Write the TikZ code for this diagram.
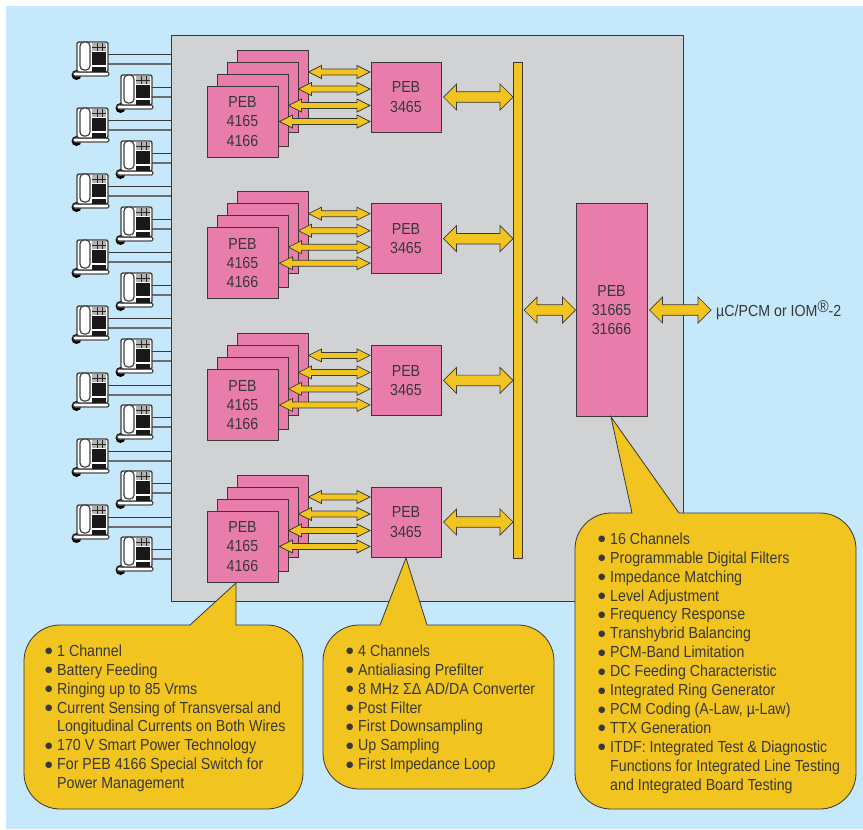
\documentclass[tikz,border=0pt]{standalone}
\usepackage{fontspec}
\setmainfont[FakeStretch=0.888]{Liberation Sans}
\newfontfamily\bulletfont{DejaVu Sans}
\usetikzlibrary{calc}
\definecolor{bgblue}{HTML}{C5E8FA}
\definecolor{panel}{HTML}{D0D2D3}
\definecolor{chip}{HTML}{E87DAC}
\definecolor{gold}{HTML}{F2C41F}
\definecolor{ink}{HTML}{383838}
\newcommand{\fatarrow}[5]{%
  \draw[fat] let \p1=(#1),\p2=(#2) in
   (\x1,\y1) -- (\x1+#3pt,\y1+#4pt) -- (\x1+#3pt,\y1+#5pt) -- (\x2-#3pt,\y1+#5pt) -- (\x2-#3pt,\y1+#4pt) --
   (\x2,\y1) -- (\x2-#3pt,\y1-#4pt) -- (\x2-#3pt,\y1-#5pt) -- (\x1+#3pt,\y1-#5pt) -- (\x1+#3pt,\y1-#4pt) -- cycle;}
\newcommand{\callout}[9]{%
  \pgfmathsetmacro{\ra}{#5*0.55}\pgfmathsetmacro{\rb}{#5*0.45}%
  \draw[bubble] (#1+#5,#2) -- (#6,#2) -- (#7,#8) -- (#9,#2) -- (#3-#5,#2)
   .. controls (#3-\rb,#2) and (#3,#2+\rb) .. (#3,#2+#5) -- (#3,#4-#5)
   .. controls (#3,#4-\rb) and (#3-\rb,#4) .. (#3-#5,#4) -- (#1+#5,#4)
   .. controls (#1+\rb,#4) and (#1,#4-\rb) .. (#1,#4-#5) -- (#1,#2+#5)
   .. controls (#1,#2+\rb) and (#1+\rb,#2) .. (#1+#5,#2) -- cycle;}
\newcommand{\bu}{\hbox to 11pt{\hss\smash{\raisebox{2.4pt}{\bulletfont\fontsize{8.5}{9}\selectfont ●}}\hskip 4.7pt}}
\newcommand{\ind}{\hspace*{11pt}}
\tikzset{
  x=1pt,y=-1pt,
  fat/.style={draw=ink,line width=0.7pt,fill=gold,line join=miter},
  bubble/.style={draw=ink,line width=0.8pt,fill=gold,line join=miter},
  chipbox/.style={draw=ink,line width=1pt,fill=chip,inner sep=0pt,anchor=north west,text=ink,align=center,
    font=\fontsize{16}{19.3}\selectfont},
  bullets/.style={anchor=north west,inner sep=0pt,align=left,text=ink,font=\fontsize{16}{18.9}\selectfont},
  dkwire/.style={draw=ink,line width=1pt},
  gywire/.style={draw=gray!85!black,line width=1.2pt},
  phone/.pic={
    \fill[black] (5.5,34) circle (5);
    \fill[bgblue] (5.5,34) circle (1.5);
    \draw[black!70,line width=1.2pt,fill=white,rounded corners=2pt] (2,31) -- (38,31) -- (38,35) -- (2,35) -- cycle;
    \draw[black!75,line width=1.4pt,fill=white,rounded corners=2pt] (6,1) rectangle (37,31);
    \fill[black!30] (21,2) rectangle (35,10);
    \draw[black!85,line width=.8pt] (21,6) -- (35,6) (26,2) -- (26,10) (31,2) -- (31,10);
    \fill[black!90] (21,11) rectangle (35,24);
    \fill[black!90] (21,25.5) rectangle (35,31);
    \draw[black!75,line width=1.2pt,fill=white,rounded corners=4pt] (9,1) rectangle (19,29);
  }
}
\begin{document}
\begin{tikzpicture}
\useasboundingbox (0,0) rectangle (863,830);
\fill[bgblue] (6,6) rectangle (863,829);
\node[draw=ink,line width=1pt,fill=panel,inner sep=0pt,minimum width=512pt,minimum height=566pt,anchor=north west] (panel) at (171,35) {};

% phones
\foreach \i/\py in {1/41,2/107,3/173,4/239,5/305,6/372,7/438,8/504}{
  \coordinate (la\i) at (108,\py+13);
  \coordinate (lb\i) at (108,\py+23);
  \draw[dkwire] (la\i) -- (la\i -| panel.west);
  \draw[gywire] (lb\i) -- (lb\i -| panel.west);
  \pic at (71,\py) {phone};
}
\foreach \i/\py in {1/74,2/140,3/206,4/272,5/338,6/404,7/470,8/536}{
  \coordinate (ra\i) at (152,\py+13);
  \coordinate (rb\i) at (152,\py+23);
  \draw[dkwire] (ra\i) -- (ra\i -| panel.west);
  \draw[gywire] (rb\i) -- (rb\i -| panel.west);
  \pic at (115,\py) {phone};
}

% bus
\node[draw=ink,line width=1pt,fill=gold,inner sep=0pt,minimum width=9pt,minimum height=496pt,anchor=north west] (bus) at (513,62) {};

% channel groups
\foreach \g/\dy in {1/0,2/141.7,3/283.4,4/425}{
  \node[chipbox,minimum width=71pt,minimum height=70pt] (d\g) at (236.5,49.5+\dy) {};
  \node[chipbox,minimum width=71pt,minimum height=70pt] (c\g) at (226.5,61.5+\dy) {};
  \node[chipbox,minimum width=71pt,minimum height=72pt] (b\g) at (216.5,73.5+\dy) {};
  \node[chipbox,minimum width=71pt,minimum height=71pt] (a\g) at (206.5,85.5+\dy) {PEB\\4165\\4166\hspace*{0pt}};
  \node[chipbox,minimum width=70pt,minimum height=70pt] (p\g) at (370.5,61.5+\dy) {PEB\\3465};
  \coordinate (t1\g) at (370,72+\dy);
  \coordinate (t2\g) at (370,89+\dy);
  \coordinate (t3\g) at (370,105.5+\dy);
  \coordinate (t4\g) at (370,122+\dy);
  \fatarrow{d\g.east |- t1\g}{t1\g}{13}{6.5}{3}
  \fatarrow{c\g.east |- t2\g}{t2\g}{13}{6.5}{3}
  \fatarrow{b\g.east |- t3\g}{t3\g}{13}{6.5}{3}
  \fatarrow{$(a\g.east)+(1,0)$ |- t4\g}{t4\g}{13}{6.5}{3}
  \fatarrow{$(p\g.east)+(2,0)$}{bus.west |- p\g.east}{13}{13}{5.3}
}

% line card chip
\node[chipbox,minimum width=71pt,minimum height=213pt] (main) at (575.5,203) {PEB\\31665\\31666};
\fatarrow{$(bus.east |- main.center)+(1,0)$}{main.west}{13}{13}{5.3}
\coordinate (io) at (711,310);
\fatarrow{$(main.east)+(2,0)$}{io}{13}{13}{5.3}
\node[anchor=west,inner sep=0pt,text=ink,font=\fontsize{16}{19}\selectfont] (iolabel) at (716,310.5)
  {µC/PCM or IOM\raisebox{4pt}{\fontsize{17}{17}\selectfont ®}-2};

% callouts
\callout{24}{625}{303}{809}{36}{190}{236}{583}{236}
\callout{323}{625}{554}{789}{36}{380}{406}{558}{427}
\callout{575}{513}{856}{809}{36}{632}{611}{417}{679}

\node[bullets] (t1) at (46,644.5) {\bu 1 Channel\\\bu Battery Feeding\\\bu Ringing up to 85 Vrms\\\bu Current Sensing of Transversal and\\\ind Longitudinal Currents on Both Wires\\\bu 170 V Smart Power Technology\\\bu For PEB 4166 Special Switch for\\\ind Power Management};
\node[bullets] (t2) at (347,644.5) {\bu 4 Channels\\\bu Antialiasing Prefilter\\\bu 8 MHz ΣΔ AD/DA Converter\\\bu Post Filter\\\bu First Downsampling\\\bu Up Sampling\\\bu First Impedance Loop};
\node[bullets] (t3) at (599,532.5) {\bu 16 Channels\\\bu Programmable Digital Filters\\\bu Impedance Matching\\\bu Level Adjustment\\\bu Frequency Response\\\bu Transhybrid Balancing\\\bu PCM-Band Limitation\\\bu DC Feeding Characteristic\\\bu Integrated Ring Generator\\\bu PCM Coding (A-Law, µ-Law)\\\bu TTX Generation\\\bu ITDF: Integrated Test \& Diagnostic\\\ind Functions for Integrated Line Testing\\\ind and Integrated Board Testing};
\end{tikzpicture}
\end{document}
